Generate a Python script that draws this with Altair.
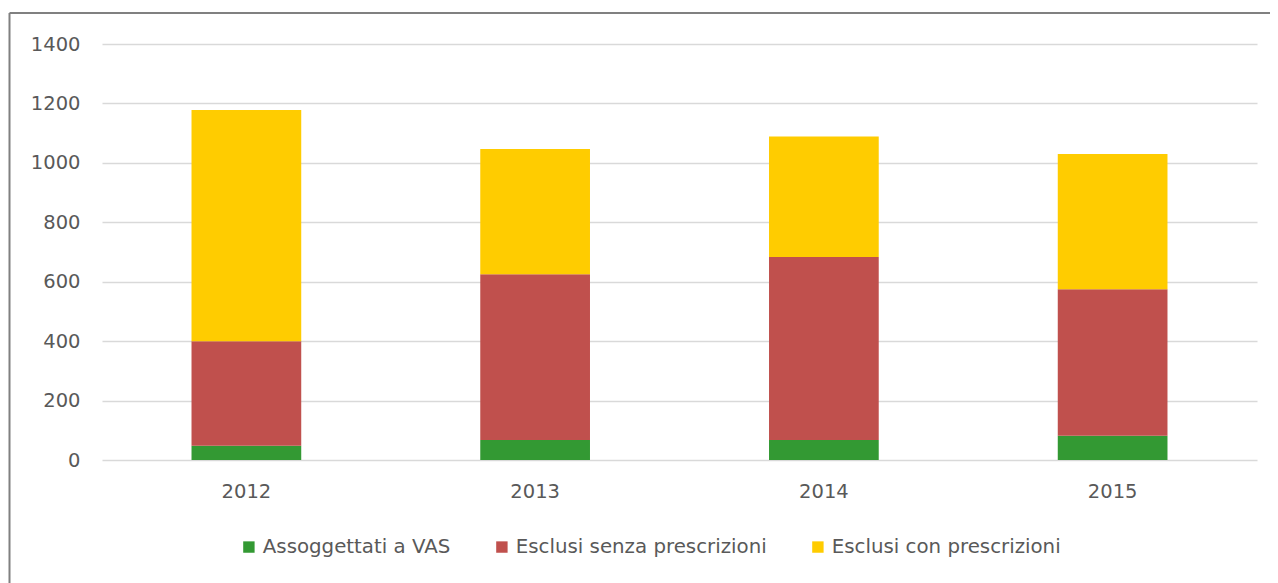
import altair as alt
import pandas as pd

years = ["2012", "2013", "2014", "2015"]
series = ["Assoggettati a VAS", "Esclusi senza prescrizioni", "Esclusi con prescrizioni"]
assoggettati = [48, 67, 67, 82]
senza = [352, 558, 616, 493]
con = [778, 422, 406, 455]
colors = ["#339933", "#C0504D", "#FFCC00"]
y_ticks = [0, 200, 400, 600, 800, 1000, 1200, 1400]

rows = []
for i, y in enumerate(years):
    for k, (s, vals) in enumerate(zip(series, [assoggettati, senza, con])):
        rows.append({"year": y, "serie": s, "value": vals[i], "idx": k})
df = pd.DataFrame(rows)

FONT = "DejaVu Sans"
TXT = "#595959"
W, H = 1155, 416
FS = 19.5
LFS = 19.8

bars = alt.Chart(df).mark_bar().encode(
    x=alt.X("year:N", sort=years, title=None,
            scale=alt.Scale(paddingInner=0.62, paddingOuter=0.31),
            axis=alt.Axis(labelAngle=0, ticks=False, domain=False, labelPadding=22,
                          labelFont=FONT, labelFontSize=FS, labelColor=TXT)),
    y=alt.Y("value:Q", stack="zero", title=None,
            scale=alt.Scale(domain=[0, 1400], nice=False),
            axis=alt.Axis(values=y_ticks, format="d", ticks=False, domain=False, labelPadding=22,
                          gridColor="#D9D9D9", gridWidth=1.5,
                          labelFont=FONT, labelFontSize=FS, labelColor=TXT)),
    color=alt.Color("serie:N", title=None,
                    scale=alt.Scale(domain=series, range=colors),
                    legend=alt.Legend(orient="none", legendX=137, legendY=493,
                                      direction="horizontal", symbolType="square",
                                      symbolSize=130, symbolStrokeWidth=0, symbolOpacity=1,
                                      labelFont=FONT, labelFontSize=LFS, labelColor=TXT,
                                      labelLimit=0, columnPadding=41, labelOffset=4)),
    order=alt.Order("idx:Q", sort="ascending"),
)

frame_df = pd.DataFrame({"k": [0]})
top_line = alt.Chart(frame_df).mark_rule(color="#808080", strokeWidth=2).encode(
    x=alt.value(-92.5), x2=alt.value(1175), y=alt.value(-31))
left_line = alt.Chart(frame_df).mark_rule(color="#808080", strokeWidth=2).encode(
    x=alt.value(-92.5), y=alt.value(-31), y2=alt.value(545))

chart = alt.layer(bars, top_line, left_line).properties(
    width=W, height=H,
    autosize=alt.AutoSizeParams(type="none"),
    padding={"left": 94, "top": 36, "right": 13, "bottom": 123},
).configure(background="white").configure_view(stroke=None)

chart.save("out.html", embed_options={"renderer": "svg", "actions": False})
